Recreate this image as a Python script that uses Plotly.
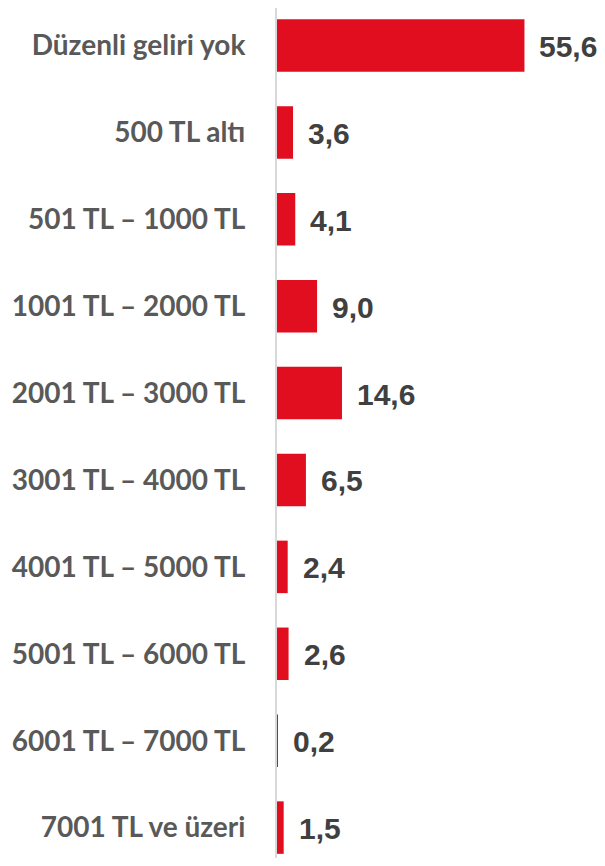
import plotly.graph_objects as go

categories = ["Düzenli geliri yok", "500 TL altı", "501 TL – 1000 TL", "1001 TL – 2000 TL",
              "2001 TL – 3000 TL", "3001 TL – 4000 TL", "4001 TL – 5000 TL",
              "5001 TL – 6000 TL", "6001 TL – 7000 TL", "7001 TL ve üzeri"]
values = [55.6, 3.6, 4.1, 9.0, 14.6, 6.5, 2.4, 2.6, 0.2, 1.5]
value_labels = [f"{v:.1f}".replace(".", ",") for v in values]

fig = go.Figure()
fig.add_trace(go.Bar(
    x=values, y=categories, orientation="h",
    marker=dict(color="#E00E1E", line=dict(width=0)),
    width=0.604,
    hoverinfo="skip",
))

for c, v, t in zip(categories, values, value_labels):
    fig.add_annotation(x=v, y=c, text=t, showarrow=False, xanchor="left", yanchor="middle",
                       xshift=13, yshift=-1,
                       font=dict(family="Liberation Sans, Arial", size=30, color="#404040", weight="bold"))

fig.update_layout(
    width=589, height=850,
    margin=dict(l=269, r=0, t=0, b=0),
    plot_bgcolor="white", paper_bgcolor="white",
    showlegend=False,
)
fig.update_xaxes(range=[0, 71.9], visible=False, showgrid=False, zeroline=False)
fig.update_yaxes(
    type="category", categoryorder="array", categoryarray=categories,
    range=[9.350, -0.4315],
    showline=True, linecolor="#D9D9D9", linewidth=2,
    showgrid=False, zeroline=False, ticks="",
    ticklabelstandoff=24,
    tickfont=dict(family="Lato, Carlito, Calibri, sans-serif", size=28, color="#595959", weight="bold"),
)

fig.write_html("out.html")
